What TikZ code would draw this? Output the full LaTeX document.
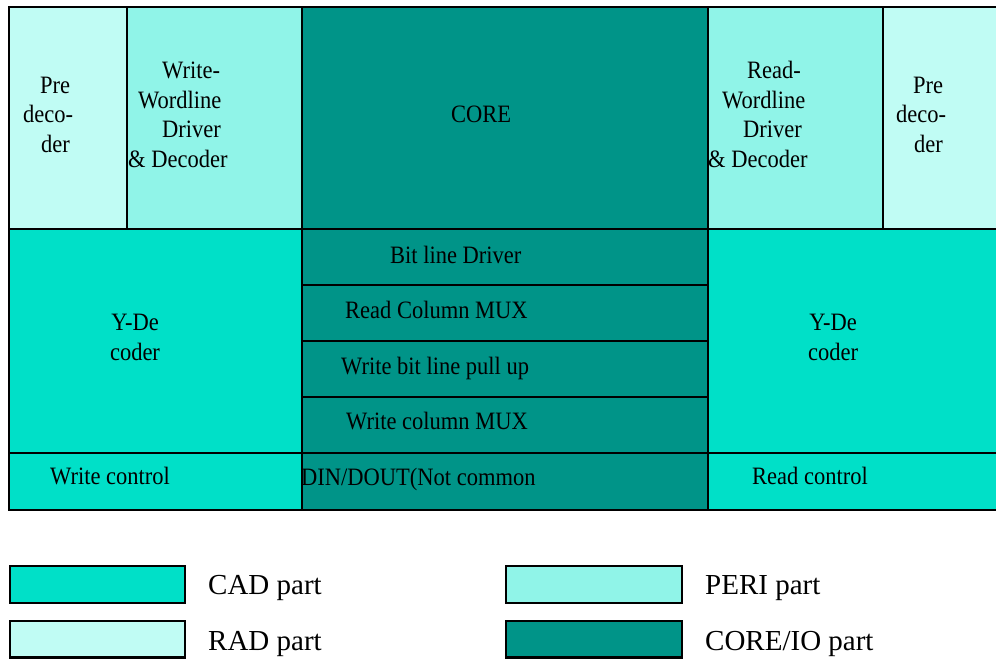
\documentclass[tikz,border=0pt]{standalone}
\usepackage{fontspec}
\setmainfont{Liberation Serif}
\newfontfamily\tallfont[FakeStretch=0.9]{Liberation Serif}
\definecolor{cad}{RGB}{0,224,200}
\definecolor{peri}{RGB}{144,244,232}
\definecolor{rad}{RGB}{192,252,244}
\definecolor{coreio}{RGB}{0,148,136}
\begin{document}
\begin{tikzpicture}[x=1pt,y=-1pt,
  edge/.style={draw=black,line width=2.6pt},
  lbl/.style={inner sep=0pt,font=\tallfont\fontsize{25}{29.5}\selectfont},
  leg/.style={inner sep=0pt,font=\fontsize{29}{34}\selectfont,anchor=base west}]
\useasboundingbox (0,0) rectangle (996,659);
\clip (0,0) rectangle (996,659);
% fills
\fill[rad]    (9,7) rectangle (127,229);
\fill[peri]   (127,7) rectangle (302,229);
\fill[coreio] (302,7) rectangle (708,229);
\fill[peri]   (708,7) rectangle (883,229);
\fill[rad]    (883,7) rectangle (1003,229);
\fill[cad]    (9,229) rectangle (302,510);
\fill[coreio] (302,229) rectangle (708,510);
\fill[cad]    (708,229) rectangle (1003,510);
% borders
\draw[edge] (9,7) rectangle (1003,510);
\draw[edge] (127,7) -- (127,229);
\draw[edge] (302,7) -- (302,510);
\draw[edge] (708,7) -- (708,510);
\draw[edge] (883,7) -- (883,229);
\draw[edge] (9,229) -- (1003,229);
\draw[edge] (302,285) -- (708,285);
\draw[edge] (302,341) -- (708,341);
\draw[edge] (302,397) -- (708,397);
\draw[edge] (9,453) -- (1003,453);
% texts (base anchor = baseline of last line)
\node[lbl,anchor=base west,align=left] (preL) at (23,152)
  {\hspace*{17pt}Pre\\deco-\\\hspace*{18pt}der};
\node[lbl,anchor=base west,align=left] (wwl) at (128,167)
  {\hspace*{34pt}Write-\\\hspace*{10pt}Wordline\\\hspace*{34pt}Driver\\\&~Decoder};
\node[lbl,anchor=base] (core) at (481,122) {CORE};
\node[lbl,anchor=base west,align=left] (rwl) at (708,167)
  {\hspace*{39pt}Read-\\\hspace*{14pt}Wordline\\\hspace*{35pt}Driver\\\&~Decoder};
\node[lbl,anchor=base west,align=left] (preR) at (896,152)
  {\hspace*{17pt}Pre\\deco-\\\hspace*{18pt}der};
\node[lbl,anchor=base,align=center] (ydL) at (135,360) {Y-De\\coder};
\node[lbl,anchor=base,align=center] (ydR) at (833,360) {Y-De\\coder};
\node[lbl,anchor=base west] (bld) at (390,263) {Bit line Driver};
\node[lbl,anchor=base west] (rcm) at (345,318) {Read Column MUX};
\node[lbl,anchor=base west] (wbl) at (341,374) {Write bit line pull up};
\node[lbl,anchor=base west] (wcm) at (346,429) {Write column MUX};
\node[lbl,anchor=base west] (din) at (301,485) {DIN/DOUT(Not common};
\node[lbl,anchor=base west] (wc) at (50,484) {Write control};
\node[lbl,anchor=base west] (rc) at (752,484) {Read control};
% legend
\filldraw[cad,draw=black,line width=2.6pt]    (10,566) rectangle (185,603);
\filldraw[rad,draw=black,line width=2.6pt]    (10,621) rectangle (185,657.5);
\filldraw[peri,draw=black,line width=2.6pt]   (506,566) rectangle (682,603);
\filldraw[coreio,draw=black,line width=2.6pt] (506,621) rectangle (682,657.5);
\node[leg] (lcad) at (208,594) {CAD part};
\node[leg] (lrad) at (208,650) {RAD part};
\node[leg] (lperi) at (705,594) {PERI part};
\node[leg] (lcore) at (705,650) {CORE/IO part};
\end{tikzpicture}
\end{document}
